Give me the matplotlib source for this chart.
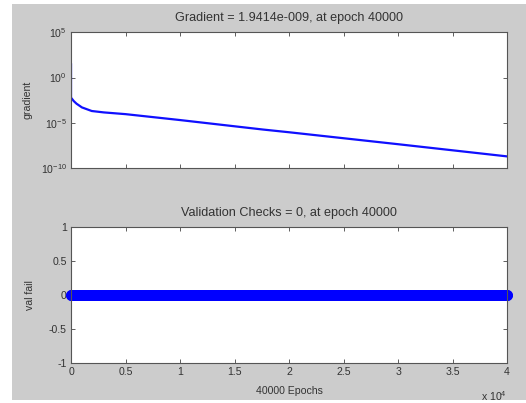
import numpy as np
import matplotlib.pyplot as plt
from matplotlib.patches import Rectangle
from matplotlib.ticker import FixedLocator, FuncFormatter, NullFormatter

# gradient values (log scale)
grad_epochs = [0, 1, 250, 500, 1000, 1900, 3000, 5000, 10000, 17600, 20000, 30000, 40000]
grad_values = [28, 6e-3, 2.5e-3, 1.3e-3, 5e-4, 2e-4, 1.4e-4, 9e-5, 2e-5, 1.8e-6, 9e-7, 4.3e-8, 1.9414e-9]

# validation failures (zero for every epoch)
val_epochs = np.arange(0, 40001, 40)
val_fail = np.zeros(len(val_epochs))

x_ticks = [0, 5000, 10000, 15000, 20000, 25000, 30000, 35000, 40000]
grad_ticks = [1e-10, 1e-5, 1e0, 1e5]
val_ticks = [-1, -0.5, 0, 0.5, 1]

plt.rcParams['font.family'] = ['Liberation Sans', 'DejaVu Sans']
plt.rcParams['font.size'] = 7.6
plt.rcParams['mathtext.fontset'] = 'custom'
plt.rcParams['mathtext.rm'] = 'Liberation Sans'

fig = plt.figure(figsize=(5.26, 4.03), dpi=100, facecolor='white')
fig.patches.append(Rectangle((12 / 526, 3 / 403), 1 - 12 / 526, 1 - 7 / 403,
                             transform=fig.transFigure, facecolor='#cccccc',
                             edgecolor='none', zorder=-1))

ax1 = fig.add_axes([0.135, 0.583, 0.829, 0.337])
ax2 = fig.add_axes([0.135, 0.099, 0.829, 0.337])

for ax in (ax1, ax2):
    ax.set_facecolor('white')
    ax.tick_params(direction='in', top=True, right=True, length=3, width=0.6,
                   colors='#444444', labelcolor='#333333', pad=3)
    for s in ax.spines.values():
        s.set_color('#555555')
        s.set_linewidth(0.8)
    ax.set_xlim(0, 40000)
    ax.xaxis.set_major_locator(FixedLocator(x_ticks))

# top: gradient
ax1.semilogy(grad_epochs, grad_values, color='#1010ff', linewidth=1.6)
ax1.set_ylim(1e-10, 1e5)
ax1.yaxis.set_major_locator(FixedLocator(grad_ticks))
ax1.yaxis.set_minor_locator(FixedLocator([]))
ax1.xaxis.set_major_formatter(NullFormatter())
ax1.set_ylabel('gradient', color='#333333', labelpad=6)
ax1.set_title('Gradient = 1.9414e-009, at epoch 40000', color='#333333', pad=8)

# bottom: validation checks
ax2.plot(val_epochs, val_fail, color='#0000ff', marker='o', markersize=7,
         markeredgewidth=0.8, linestyle='-', linewidth=1, clip_on=False)
ax2.set_ylim(-1, 1)
ax2.yaxis.set_major_locator(FixedLocator(val_ticks))
ax2.yaxis.set_major_formatter(FuncFormatter(lambda v, p: f'{v:g}'))
ax2.xaxis.set_major_formatter(FuncFormatter(lambda v, p: f'{v / 1e4:g}'))
ax2.set_ylabel('val fail', color='#333333', labelpad=10)
ax2.set_xlabel('40000 Epochs', color='#333333', labelpad=6)
ax2.set_title('Validation Checks = 0, at epoch 40000', color='#333333', pad=8)
ax2.text(1.0, -0.19, r'x 10$^{4}$', transform=ax2.transAxes, ha='right', va='top',
         color='#333333')

fig.savefig('out.png', dpi=100, facecolor=fig.get_facecolor())
